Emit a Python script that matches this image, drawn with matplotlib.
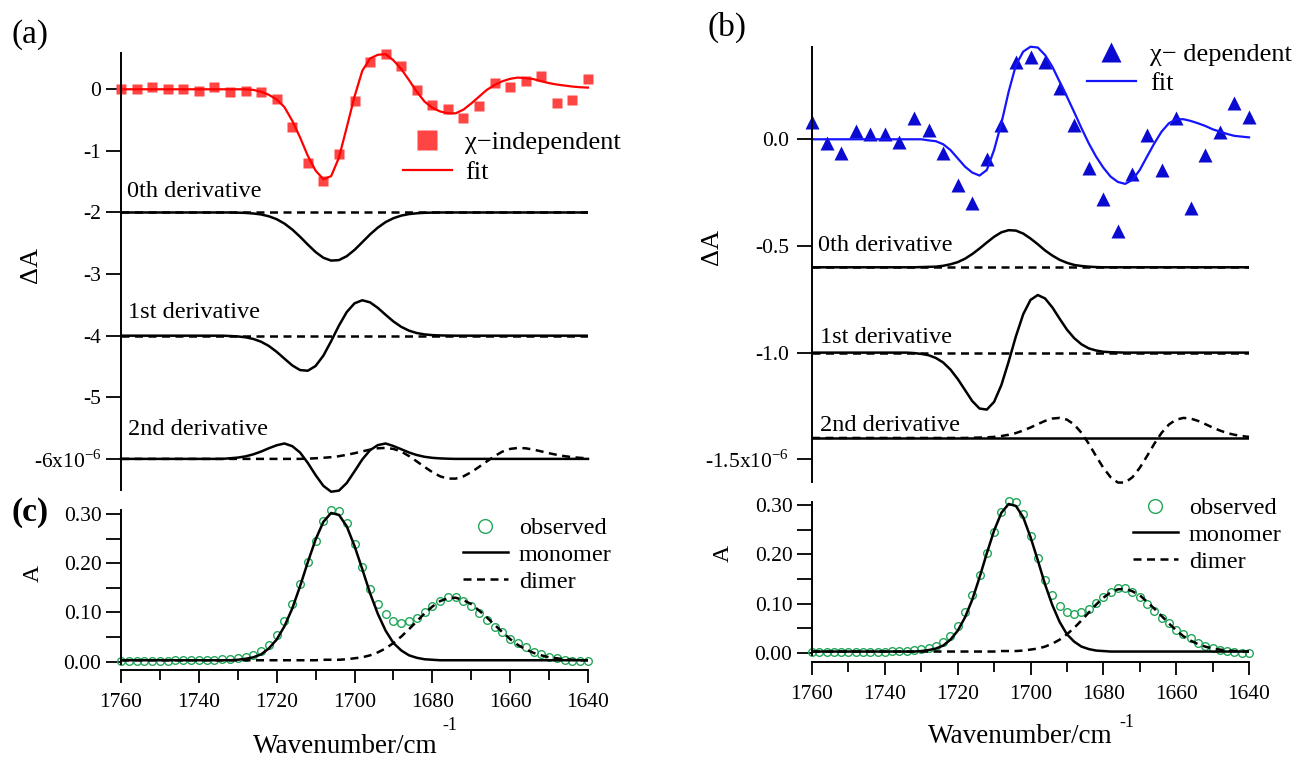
# spectres IR : composantes derivees (a, b) et decomposition monomere / dimere (c)
import numpy as np
import matplotlib
matplotlib.use("Agg")
from matplotlib import pyplot as plt
from matplotlib.ticker import FixedLocator, MultipleLocator

plt.rcParams['font.family'] = ['Liberation Serif', 'DejaVu Serif']
plt.rcParams['mathtext.fontset'] = 'custom'
plt.rcParams['mathtext.rm'] = 'Liberation Serif'

# grilles en nombre d'onde (cm-1)
wn_points = np.arange(1760, 1639, -4)   # points mesures (a) et (b)
wn_fine = np.arange(1760, 1639, -2)     # courbes et spectre observe
wn_ends = [1760, 1640]

# ---- (a) chi-independent ----
chi_indep = [0.01, 0.01, 0.03, 0.0, 0.01, -0.03, 0.03, -0.05, -0.02, -0.05,
             -0.16, -0.62, -1.19, -1.49, -1.05, -0.19, 0.45, 0.57, 0.38, -0.01,
             -0.25, -0.32, -0.47, -0.27, 0.10, 0.04, 0.13, 0.21, -0.22, -0.18, 0.165]
fit_a = [0.0, 0.0, 0.0, 0.0, 0.0, 0.0, 0.0, 0.0, 0.0, 0.0,
         0.0, 0.0, 0.0, 0.0, 0.0, 0.0, 0.0, -0.01, -0.04, -0.09,
         -0.165, -0.29, -0.51, -0.78, -1.08, -1.32, -1.46, -1.41, -1.11, -0.62,
         -0.12, 0.30, 0.50, 0.56, 0.57, 0.47, 0.33, 0.15, -0.04, -0.20,
         -0.30, -0.36, -0.39, -0.39, -0.33, -0.23, -0.12, -0.01, 0.07, 0.13,
         0.17, 0.19, 0.18, 0.165, 0.13, 0.10, 0.077, 0.06, 0.044, 0.033, 0.027]
zeroth_a = [-2.0] * 15 + [-2.003, -2.007, -2.016, -2.032, -2.062,
            -2.109, -2.180, -2.276, -2.393, -2.521, -2.642, -2.735, -2.781, -2.773, -2.710,
            -2.608, -2.483, -2.356, -2.245, -2.156, -2.093, -2.051, -2.026, -2.013, -2.005,
            -2.002] + [-2.0] * 20
first_a = [-4.0] * 14 + [-4.005, -4.012, -4.026, -4.053, -4.098, -4.167,
           -4.262, -4.373, -4.482, -4.558, -4.569, -4.492, -4.324, -4.089, -3.836, -3.617,
           -3.475, -3.425, -3.459, -3.549, -3.661, -3.769, -3.856, -3.918, -3.957, -3.979,
           -3.991, -3.996, -3.998] + [-4.0] * 18
second_a = [-6.0] * 14 + [-5.990, -5.979, -5.959, -5.926, -5.881, -5.827,
            -5.779, -5.750, -5.793, -5.896, -6.065, -6.263, -6.438, -6.533, -6.515, -6.392,
            -6.203, -6.009, -5.858, -5.776, -5.750, -5.791, -5.843, -5.896, -5.937, -5.966,
            -5.983, -5.992, -5.997] + [-6.0] * 18
second_a_dimer = [-6.0] * 24 + [-5.996, -5.990, -5.982, -5.972, -5.956, -5.934,
                  -5.908, -5.878, -5.850, -5.828, -5.822, -5.838, -5.881, -5.954, -6.041, -6.130,
                  -6.215, -6.283, -6.320, -6.320, -6.283, -6.215, -6.130, -6.041, -5.954, -5.882,
                  -5.838, -5.822, -5.828, -5.850, -5.878, -5.908, -5.934, -5.956, -5.972, -5.983,
                  -5.990]
levels_a = [-2.0, -4.0]

# ---- (b) chi-dependent ----
chi_dep = [0.083, -0.016, -0.062, 0.041, 0.025, 0.023, -0.011, 0.10, 0.044, -0.062,
           -0.214, -0.297, -0.094, 0.067, 0.364, 0.384, 0.364, 0.239, 0.067, -0.133,
           -0.281, -0.43, -0.162, 0.02, -0.144, 0.098, -0.323, -0.073, 0.036, 0.169, 0.106]
fit_b = [0.0] * 16 + [-0.005, -0.009, -0.023, -0.05,
         -0.089, -0.128, -0.156, -0.170, -0.144, -0.05, 0.075, 0.223, 0.348, 0.411,
         0.434, 0.43, 0.395, 0.34, 0.27, 0.20, 0.127, 0.052, -0.019, -0.081,
         -0.133, -0.175, -0.20, -0.209, -0.19, -0.144, -0.081, -0.019, 0.036, 0.075,
         0.094, 0.094, 0.086, 0.075, 0.0625, 0.047, 0.036, 0.025, 0.016, 0.0125, 0.009]
zeroth_b = [-0.6] * 15 + [-0.599, -0.598, -0.597, -0.593, -0.586,
            -0.576, -0.560, -0.538, -0.512, -0.484, -0.457, -0.436, -0.426, -0.428, -0.442,
            -0.465, -0.492, -0.521, -0.545, -0.565, -0.579, -0.589, -0.594, -0.597, -0.599] + [-0.6] * 21
first_b = [-1.0] * 14 + [-1.002, -1.006, -1.012, -1.025, -1.046, -1.079,
           -1.123, -1.175, -1.227, -1.262, -1.267, -1.231, -1.152, -1.042, -0.923, -0.820,
           -0.753, -0.730, -0.746, -0.788, -0.841, -0.892, -0.932, -0.961, -0.980, -0.990,
           -0.996, -0.998, -0.999] + [-1.0] * 18
second_b_dimer = [-1.4] * 22 + [-1.399, -1.398, -1.397, -1.395, -1.391, -1.385, -1.377, -1.365,
                  -1.351, -1.335, -1.320, -1.309, -1.306, -1.314, -1.337, -1.376, -1.427, -1.485,
                  -1.540, -1.584, -1.609, -1.609, -1.584, -1.540, -1.485, -1.427, -1.376, -1.337,
                  -1.314, -1.306, -1.309, -1.320, -1.335, -1.351, -1.365, -1.377, -1.385, -1.391,
                  -1.395]
levels_b_dashed = [-0.6, -1.0]
level_b_second = -1.4

# ---- (c) absorbance ----
observed = [0.002, 0.002, 0.002, 0.002, 0.002, 0.002, 0.002, 0.003, 0.003, 0.003,
            0.003, 0.004, 0.004, 0.005, 0.006, 0.008, 0.010, 0.014, 0.022, 0.034,
            0.054, 0.083, 0.117, 0.158, 0.203, 0.246, 0.286, 0.308, 0.306, 0.281,
            0.238, 0.193, 0.148, 0.118, 0.096, 0.083, 0.079, 0.083, 0.089, 0.101,
            0.113, 0.123, 0.131, 0.132, 0.123, 0.114, 0.099, 0.085, 0.070, 0.060,
            0.047, 0.039, 0.030, 0.020, 0.015, 0.010, 0.007, 0.004, 0.002, 0.001, 0.001]
monomer = [0.003] * 15 + [0.004, 0.006, 0.009, 0.015, 0.027,
           0.045, 0.072, 0.108, 0.153, 0.202, 0.248, 0.284, 0.302, 0.298, 0.275,
           0.235, 0.188, 0.139, 0.097, 0.063, 0.038, 0.023, 0.013, 0.008, 0.005,
           0.004] + [0.003] * 20
dimer = [0.003] * 26 + [0.004, 0.004, 0.004, 0.005,
         0.007, 0.009, 0.013, 0.019, 0.027, 0.038, 0.051, 0.066, 0.082, 0.098,
         0.112, 0.123, 0.129, 0.130, 0.125, 0.117, 0.104, 0.090, 0.075, 0.060,
         0.046, 0.034, 0.025, 0.018, 0.013, 0.009, 0.007, 0.005, 0.004, 0.003, 0.003]

W, H = 1304, 758
fig = plt.figure(figsize=(W / 100, H / 100), dpi=100)

def axes_px(x0, y0, x1, y1):
    return fig.add_axes([x0 / W, 1 - y1 / H, (x1 - x0) / W, (y1 - y0) / H])

def ftext(x, y, s, **kw):
    fig.text(x / W, 1 - y / H, s, **kw)

red = '#ff4444'
blue = '#0a0ad0'
green = '#22a65a'
dash = (3.2, 2.2)
tick_pt = 10.5
tick_fs = 15.5

ax_a = axes_px(121, 53.3, 588, 490)
ax_b = axes_px(812, 46.7, 1249, 481.7)
ax_c = axes_px(121, 510, 588, 663.7)
ax_d = axes_px(812, 502, 1249, 655)

for ax in (ax_a, ax_b, ax_c, ax_d):
    ax.set_xlim(1760, 1640)
    ax.patch.set_visible(False)
    ax.spines['top'].set_visible(False)
    ax.spines['right'].set_visible(False)
    ax.spines['left'].set_linewidth(1.4)
    ax.spines['bottom'].set_linewidth(1.4)
    ax.tick_params(axis='y', which='both', direction='out', length=tick_pt, width=1.3,
                   labelsize=tick_fs, pad=3.6)

for ax in (ax_a, ax_b):
    ax.spines['bottom'].set_visible(False)
    ax.set_xticks([])

# (a)
ax_a.set_ylim(-6.505, 0.584)
ax_a.yaxis.set_major_locator(FixedLocator([0, -1, -2, -3, -4, -5, -6]))
ax_a.set_yticklabels(['0', '-1', '-2', '-3', '-4', '-5', r'-6x10$^{-6}$'])
for lvl in levels_a:
    ax_a.plot(wn_ends, [lvl, lvl], color='black', lw=1.8, dashes=dash)
ax_a.plot(wn_fine, zeroth_a, color='black', lw=1.8)
ax_a.plot(wn_fine, first_a, color='black', lw=1.8)
ax_a.plot(wn_fine, second_a_dimer, color='black', lw=1.8, dashes=dash, clip_on=False)
ax_a.plot(wn_fine, second_a, color='black', lw=1.8, clip_on=False)
ax_a.plot(wn_points, chi_indep, ls='none', marker='s', ms=7, color=red, mec='none',
          clip_on=False, label='\u03c7\u2212independent')
ax_a.plot(wn_fine, fit_a, color='#ff0000', lw=1.6, clip_on=False, label='fit')
ax_a.legend(loc='upper left', bbox_to_anchor=(403 / W, 1 - 131 / H), bbox_transform=fig.transFigure,
            frameon=False, fontsize=19, handlelength=1.85, handletextpad=0.5, labelspacing=0.22,
            borderpad=0, borderaxespad=0, markerscale=2.1, numpoints=1)

# (b)
ax_b.set_ylim(-1.605, 0.434)
ax_b.yaxis.set_major_locator(FixedLocator([0.0, -0.5, -1.0, -1.5]))
ax_b.set_yticklabels(['0.0', '-0.5', '-1.0', r'-1.5x10$^{-6}$'])
ax_b.tick_params(axis='y', pad=6)
for lvl in levels_b_dashed:
    ax_b.plot(wn_ends, [lvl, lvl], color='black', lw=1.8, dashes=dash)
ax_b.plot(wn_ends, [level_b_second, level_b_second], color='black', lw=1.8)
ax_b.plot(wn_fine, zeroth_b, color='black', lw=1.8)
ax_b.plot(wn_fine, first_b, color='black', lw=1.8)
ax_b.plot(wn_fine, second_b_dimer, color='black', lw=1.8, dashes=dash, clip_on=False)
ax_b.plot(wn_points, chi_dep, ls='none', marker='^', ms=10, color=blue, mec='none',
          clip_on=False, label='\u03c7\u2212 dependent')
ax_b.plot(wn_fine, fit_b, color='#1414ff', lw=1.6, clip_on=False, label='fit')
ax_b.legend(loc='upper left', bbox_to_anchor=(1087 / W, 1 - 43 / H), bbox_transform=fig.transFigure,
            frameon=False, fontsize=19, handlelength=1.85, handletextpad=0.55, labelspacing=0.2,
            borderpad=0, borderaxespad=0, markerscale=1.5, numpoints=1)

# (c) et meme spectre sous (b)
for ax, lpos in ((ax_c, (463, 517)), (ax_d, (1133, 497))):
    ax.set_ylim(-0.004, 0.308 if ax is ax_c else 0.306)
    ax.spines['bottom'].set_position(('outward', 4.5 if ax is ax_c else 5))
    ax.yaxis.set_major_locator(FixedLocator([0.0, 0.1, 0.2, 0.3]))
    ax.yaxis.set_minor_locator(FixedLocator([0.05, 0.15, 0.25]))
    ax.set_yticklabels(['0.00', '0.10', '0.20', '0.30'])
    ax.xaxis.set_major_locator(MultipleLocator(20))
    ax.xaxis.set_minor_locator(MultipleLocator(10))
    ax.tick_params(axis='x', which='major', direction='out', length=9.4, width=1.3,
                   labelsize=tick_fs, pad=7)
    ax.tick_params(axis='x', which='minor', direction='out', length=7.5, width=1.3)
    ax.plot(wn_fine, observed, ls='none', marker='o', ms=5.5, mfc='none', mec=green, mew=1.0,
            clip_on=False, label='observed')
    ax.plot(wn_fine, monomer, color='black', lw=1.8, label='monomer')
    ax.plot(wn_fine, dimer, color='black', lw=1.8, dashes=dash, label='dimer')
    ax.legend(loc='upper left', bbox_to_anchor=(lpos[0] / W, 1 - lpos[1] / H),
              bbox_transform=fig.transFigure, frameon=False, fontsize=17.5, handlelength=1.85,
              handletextpad=0.45, labelspacing=0.2, borderpad=0, borderaxespad=0,
              markerscale=1.8, numpoints=1)

# textes
lab = dict(fontsize=17.5, va='baseline', ha='left')
ftext(127, 197, '0th derivative', **lab)
ftext(128, 318, '1st derivative', **lab)
ftext(128, 435, '2nd derivative', **lab)
ftext(818, 251, '0th derivative', **lab)
ftext(820, 343, '1st derivative', **lab)
ftext(820, 431, '2nd derivative', **lab)

ftext(30, 35, '(a)', fontsize=24, ha='center', va='center')
ftext(727, 27, '(b)', fontsize=24, ha='center', va='center')
ftext(30, 512, '(c)', fontsize=24, ha='center', va='center', fontweight='bold')

ftext(31, 265, '\u0394A', fontsize=19, rotation=90, ha='center', va='center')
ftext(712, 247, '\u0394A', fontsize=19, rotation=90, ha='center', va='center')
ftext(33, 573, 'A', fontsize=17, rotation=90, ha='center', va='center')
ftext(723, 553, 'A', fontsize=17, rotation=90, ha='center', va='center')

ftext(253, 753, 'Wavenumber/cm', fontsize=19.5, ha='left', va='baseline')
ftext(442, 730, '-1', fontsize=13, ha='left', va='baseline')
ftext(928, 743, 'Wavenumber/cm', fontsize=19.5, ha='left', va='baseline')
ftext(1119, 727, '-1', fontsize=13, ha='left', va='baseline')

fig.savefig('out.png', dpi=100)
